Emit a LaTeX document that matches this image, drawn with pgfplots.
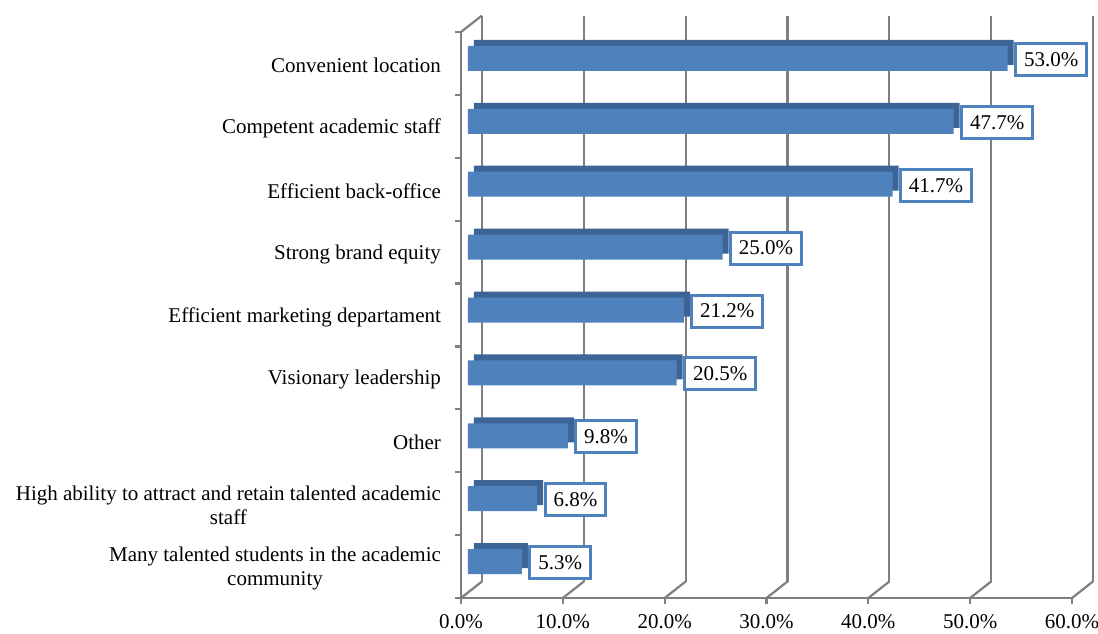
\documentclass[border=0pt]{standalone}
\usepackage{fontspec}
\setmainfont{Liberation Serif}
\usepackage{pgfplots}
\pgfplotsset{compat=1.18}
\definecolor{barfront}{HTML}{4F81BD}
\definecolor{bartop}{HTML}{3C6496}
\definecolor{gridgray}{HTML}{7F7F7F}
\begin{document}
\begin{tikzpicture}[font=\fontsize{10.5}{12}\selectfont]
\useasboundingbox (-230.5pt,-17.5pt) rectangle (318.5pt,299pt);
\begin{axis}[
  at={(0,0)}, anchor=south west,
  scale only axis, width=305.5pt, height=283pt,
  xmin=0, xmax=60, ymin=-0.5, ymax=8.5,
  axis lines*=left,
  axis line style={gridgray, line width=1.1pt},
  xtick={0,10,...,60},
  /pgf/number format/assume math mode=true,
  xticklabel={\pgfmathprintnumber[fixed,fixed zerofill,precision=1]{\tick}\%},
  xticklabel style={yshift=-1.8pt},
  ytick={0,...,8},
  yticklabels={{Many talented students in the academic\\community},{High ability to attract and retain talented academic\\staff},Other,Visionary leadership,Efficient marketing departament,Strong brand equity,Efficient back-office,Competent academic staff,Convenient location},
  yticklabel style={align=center, xshift=-3.5pt, yshift=-1pt},
  minor ytick={-0.5,0.5,...,8.5},
  tick align=outside,
  major tick length=3pt, minor tick length=3pt,
  every major y tick/.append style={draw=none},
  tick style={gridgray, line width=1.1pt},
  xbar, bar width=12.5pt,
  clip=false,
]
\pgfplotsinvokeforeach{0,10,20,30,40,50,60}{
  \draw[gridgray, line width=1.1pt] ([shift={(10.5pt,8.25pt)}]axis cs:#1,-0.5) -- ([shift={(10.5pt,8.25pt)}]axis cs:#1,8.5);
  \draw[gridgray, line width=1.1pt] (axis cs:#1,-0.5) -- ([shift={(10.5pt,8.25pt)}]axis cs:#1,-0.5);
}
\draw[gridgray, line width=1.1pt] (axis cs:0,8.5) -- ([shift={(10.5pt,8.25pt)}]axis cs:0,8.5);
\addplot[draw=none, fill=bartop, xshift=6.5pt, yshift=5.5pt, bar shift=0pt]
  coordinates {(5.3,0) (6.8,1) (9.8,2) (20.5,3) (21.2,4) (25.0,5) (41.7,6) (47.7,7) (53.0,8)};
\addplot[draw=none, fill=barfront, xshift=3.5pt, yshift=2.5pt, bar shift=0pt,
  nodes near coords={\pgfmathprintnumber[fixed,fixed zerofill,precision=1]{\pgfplotspointmeta}\%},
  every node near coord/.append style={anchor=west, xshift=3.2pt, yshift=-0.5pt, draw=barfront, line width=1.5pt, fill=white, inner xsep=4.2pt, minimum height=16pt, text=black}]
  coordinates {(5.3,0) (6.8,1) (9.8,2) (20.5,3) (21.2,4) (25.0,5) (41.7,6) (47.7,7) (53.0,8)};
\end{axis}
\end{tikzpicture}
\end{document}
